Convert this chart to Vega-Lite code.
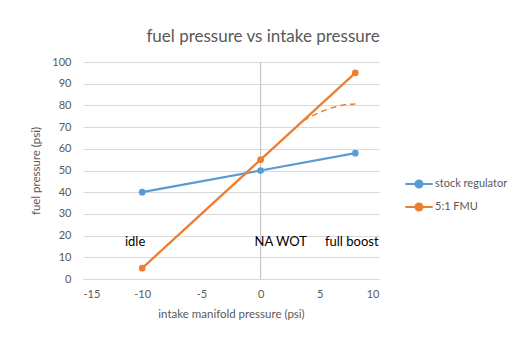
{
  "$schema": "https://vega.github.io/schema/vega-lite/v6.json",
  "autosize": {"type": "none"},
  "padding": {"left": 83, "top": 62, "right": 153, "bottom": 75},
  "width": 296,
  "height": 217,
  "background": "white",
  "title": {
    "text": "fuel pressure vs intake pressure",
    "font": "Lato",
    "fontSize": 17,
    "fontWeight": "normal",
    "color": "#595959",
    "anchor": "middle",
    "dx": 32,
    "offset": 10
  },
  "config": {
    "font": "Lato",
    "view": {"stroke": null},
    "axis": {
      "labelFont": "Lato",
      "labelFontSize": 11,
      "labelColor": "#595959",
      "titleFont": "Lato",
      "titleFontSize": 11.5,
      "titleFontWeight": "normal",
      "titleColor": "#595959",
      "ticks": false
    },
    "axisY": {"tickCount": 11, "labelOverlap": false}
  },
  "encoding": {
    "x": {
      "field": "x", "type": "quantitative",
      "scale": {"domain": [-15, 10], "nice": false},
      "axis": {
        "title": "intake manifold pressure (psi)",
        "tickCount": 5,
        "grid": false,
        "domain": true,
        "domainColor": "#D9D9D9",
        "labelPadding": 9,
        "titlePadding": 9,
        "labelExpr": "replace(datum.label, '−', '-')"
      }
    },
    "y": {
      "field": "y", "type": "quantitative",
      "scale": {"domain": [0, 100], "nice": false},
      "axis": {
        "tickCount": 11,
        "tickMinStep": 10,
        "labelOverlap": false,
        "title": "fuel pressure (psi)",
        "grid": true,
        "gridColor": "#D9D9D9",
        "domain": false,
        "labelPadding": 12,
        "titlePadding": 10
      }
    }
  },
  "layer": [
    {
      "data": {"values": [{"x": 0}]},
      "mark": {"type": "rule", "color": "#BFBFBF", "strokeWidth": 1},
      "encoding": {"y": null}
    },
    {
      "data": {
        "values": [
          {"x": -10, "y": 40, "series": "stock regulator"},
          {"x": 0, "y": 50, "series": "stock regulator"},
          {"x": 8, "y": 58, "series": "stock regulator"},
          {"x": -10, "y": 5, "series": "5:1 FMU"},
          {"x": 0, "y": 55, "series": "5:1 FMU"},
          {"x": 8, "y": 95, "series": "5:1 FMU"}
        ]
      },
      "mark": {"type": "line", "strokeWidth": 2.25, "point": {"filled": true, "size": 45}},
      "encoding": {
        "color": {
          "field": "series", "type": "nominal",
          "scale": {"domain": ["stock regulator", "5:1 FMU"], "range": ["#5B9BD5", "#ED7D31"]},
          "legend": {
            "title": null,
            "orient": "none",
            "legendX": 321,
            "legendY": 107,
            "padding": 0,
            "rowPadding": 0,
            "symbolType": "M-1,0H1M-0.26,0A0.26,0.26,0,1,1,0.26,0A0.26,0.26,0,1,1,-0.26,0",
            "symbolSize": 750,
            "symbolStrokeWidth": 2,
            "labelFont": "Lato",
            "labelFontSize": 11,
            "labelColor": "#595959",
            "labelOffset": 1,
            "encode": {"symbols": {"update": {"fill": {"scale": "color", "field": "value"}}}}
          }
        }
      }
    },
    {
      "data": {
        "values": [
          {"x": 3.6, "y": 73},
          {"x": 4.8, "y": 76.3},
          {"x": 6, "y": 78.8},
          {"x": 6.75, "y": 80},
          {"x": 8, "y": 80.7}
        ]
      },
      "mark": {"type": "line", "color": "#ED7D31", "strokeWidth": 1.5, "strokeDash": [6, 4], "interpolate": "monotone"}
    },
    {
      "data": {
        "values": [
          {"x": -10.6, "y": 17, "label": "idle"},
          {"x": 1.7, "y": 17, "label": "NA WOT"},
          {"x": 7.7, "y": 17, "label": "full boost"}
        ]
      },
      "mark": {"type": "text", "font": "Lato", "fontSize": 13, "color": "black", "align": "center", "baseline": "middle"},
      "encoding": {
        "text": {"field": "label"}
      }
    }
  ]
}
